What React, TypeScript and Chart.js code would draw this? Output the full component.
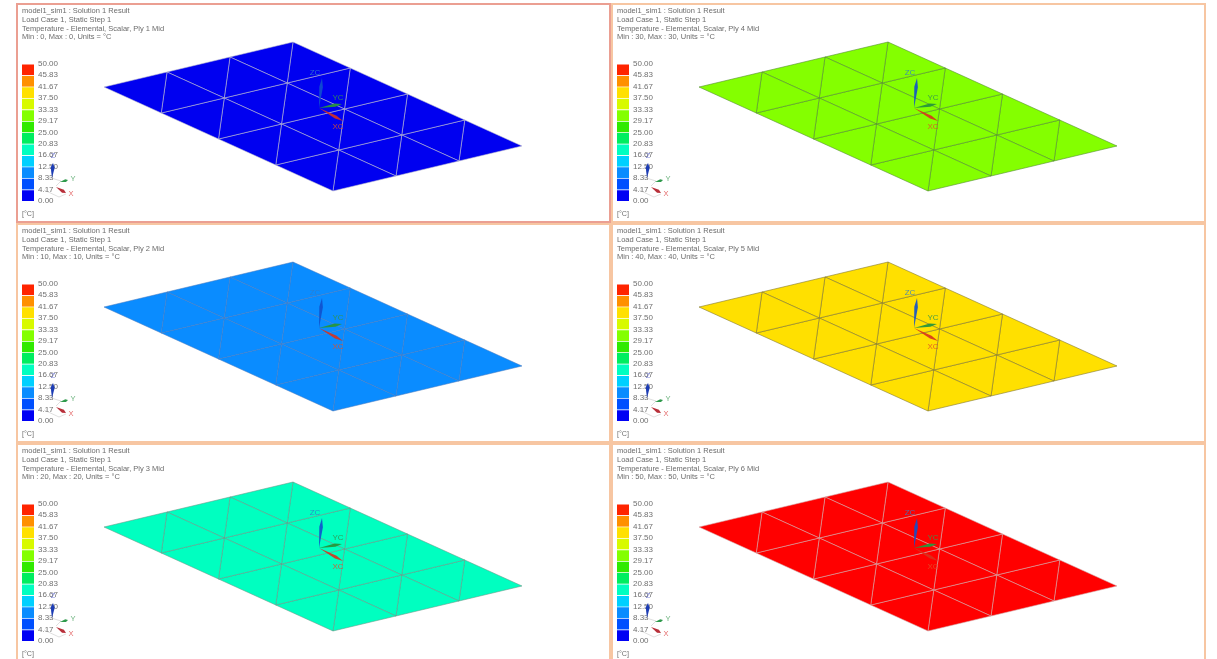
import React, { useEffect, useRef } from "react";
import { Chart, registerables } from "chart.js";

Chart.register(...registerables);

// ---- Data ----
const PLY_NUMBERS = [1, 4, 2, 5, 3, 6];
const PLY_TEMPERATURES = [0, 30, 10, 40, 20, 50];
const LEGEND_TICKS = [0, 4.17, 8.33, 12.5, 16.67, 20.83, 25, 29.17, 33.33, 37.5, 41.67, 45.83, 50];
const LEGEND_COLORS = [
  "#0000f4", "#0050ff", "#0a8cff", "#00d0ff", "#00ffc0", "#00ee60",
  "#30ea00", "#84ff00", "#d8fa00", "#ffe000", "#ff9000", "#ff2400",
];
const ELEMENT_COLORS: Record<number, string> = {
  0: "#0000f0", 10: "#0a8cff", 20: "#00ffc0", 30: "#84ff00", 40: "#ffe000", 50: "#ff0000",
};
const MESH_LINE: Record<number, string> = {
  0: "rgba(190,190,205,0.8)", 10: "rgba(70,120,190,0.75)", 20: "rgba(105,150,135,0.8)",
  30: "rgba(85,140,50,0.85)", 40: "rgba(130,120,50,0.85)", 50: "rgba(210,170,170,0.8)",
};
const U_DIVISIONS = 3;
const V_DIVISIONS = 4;

// Plate seen in the view: origin and the two in-plane edge vectors.
const PLATE_ORIGIN = [104, 87];
const PLATE_U = [189, -45];
const PLATE_V = [229, 104];

const DATUM_ORIGIN = [319, 108];
const DATUM_TIPS = { z: [322, 78], y: [342, 104], x: [343, 121] };
const DATUM_LABELS = { z: [315, 73], y: [338, 98], x: [338, 127] };
const WCS_TIPS = { z: [53, 163], y: [68, 180], x: [66, 193] };
const WCS_LABELS = { z: [53, 156], y: [73, 179], x: [71, 194] };
const WCS_ORIGINS = { z: [52, 178], y: [60, 182], x: [56, 187] };
const WCS_BOX = [
  [[48, 177], [61, 181]],
  [[61, 181], [56, 186]],
  [[44, 190], [59, 197]],
  [[59, 197], [66, 194]],
];

const FONT = "'Liberation Sans', Arial, sans-serif";
const TEXT_COLOR = "#707070";

const project = (u: number, v: number) => ({
  x: PLATE_ORIGIN[0] + (PLATE_U[0] * u) / U_DIVISIONS + (PLATE_V[0] * v) / V_DIVISIONS,
  y: PLATE_ORIGIN[1] + (PLATE_U[1] * u) / U_DIVISIONS + (PLATE_V[1] * v) / V_DIVISIONS,
});

const spindle = (from: number[], to: number[], halfWidth: number) => {
  const dx = to[0] - from[0];
  const dy = to[1] - from[1];
  const len = Math.hypot(dx, dy) || 1;
  const nx = (-dy / len) * halfWidth;
  const ny = (dx / len) * halfWidth;
  const mx = from[0] + dx * 0.7;
  const my = from[1] + dy * 0.7;
  return [
    { x: from[0], y: from[1] },
    { x: mx + nx, y: my + ny },
    { x: to[0], y: to[1] },
    { x: mx - nx, y: my - ny },
    { x: from[0], y: from[1] },
  ];
};

const shape = (data: { x: number; y: number }[], fillColor: string, line: string, lineWidth = 0) => ({
  data,
  showLine: true,
  pointRadius: 0,
  tension: 0,
  fill: "shape",
  backgroundColor: fillColor,
  borderColor: line,
  borderWidth: lineWidth,
});

const meshPlugin = {
  id: "panelText",
  afterDraw(chart: any, _a: any, opts: any) {
    const { ctx, scales } = chart;
    ctx.save();
    ctx.textBaseline = "middle";
    ctx.textAlign = "left";
    ctx.font = `7.5px ${FONT}`;
    ctx.fillStyle = "#6c6c6c";
    (opts.header as string[]).forEach((t, i) => {
      ctx.fillText(t, scales.x.getPixelForValue(22), scales.y.getPixelForValue(11 + i * 8.75));
    });
    ctx.textAlign = "center";
    (opts.labels as any[]).forEach((l) => {
      ctx.font = `${l.size}px ${FONT}`;
      ctx.fillStyle = l.color;
      ctx.fillText(l.text, scales.x.getPixelForValue(l.at[0]), scales.y.getPixelForValue(l.at[1]));
    });
    ctx.restore();
  },
};

function Panel({ index }: { index: number }) {
  const meshRef = useRef<HTMLCanvasElement>(null);
  const barRef = useRef<HTMLCanvasElement>(null);
  const temp = PLY_TEMPERATURES[index];
  const ply = PLY_NUMBERS[index];
  const col = index % 2;
  const row = Math.floor(index / 2);
  const left = 16 + 595 * col;
  const top = 3 + 220 * row;

  useEffect(() => {
    const datasets: any[] = [];
    const zc = "rgba(16,80,205,0.9)";
    const yc = "rgba(40,150,60,0.95)";
    const xc = "rgba(215,50,30,0.9)";
    // Chart.js paints the first dataset last, so the triads come first.
    datasets.push(shape(spindle(DATUM_ORIGIN, DATUM_TIPS.z, 1.8), zc, zc));
    datasets.push(shape(spindle(DATUM_ORIGIN, DATUM_TIPS.y, 1.6), yc, yc));
    datasets.push(shape(spindle(DATUM_ORIGIN, DATUM_TIPS.x, 1.6), xc, xc));
    datasets.push(shape(spindle(WCS_ORIGINS.z, WCS_TIPS.z, 2), "#1c3cb4", "#1c3cb4"));
    datasets.push(shape(spindle(WCS_ORIGINS.y, WCS_TIPS.y, 1.4), "#2f9a4c", "#2f9a4c"));
    datasets.push(shape(spindle(WCS_ORIGINS.x, WCS_TIPS.x, 1.8), "#b8303a", "#b8303a"));
    WCS_BOX.forEach((seg) =>
      datasets.push({
        data: seg.map((p) => ({ x: p[0], y: p[1] })),
        showLine: true,
        pointRadius: 0,
        borderColor: "rgba(170,170,170,0.55)",
        borderWidth: 0.7,
      })
    );
    for (let i = 0; i < U_DIVISIONS; i++) {
      for (let j = 0; j < V_DIVISIONS; j++) {
        const a = project(i, j);
        const b = project(i + 1, j);
        const c = project(i, j + 1);
        const d = project(i + 1, j + 1);
        datasets.push(shape([a, b, c, a], ELEMENT_COLORS[temp], MESH_LINE[temp], 0.7));
        datasets.push(shape([b, d, c, b], ELEMENT_COLORS[temp], MESH_LINE[temp], 0.7));
      }
    }

    const mesh = new Chart(meshRef.current!, {
      type: "scatter",
      data: { datasets },
      plugins: [meshPlugin],
      options: {
        animation: false,
        responsive: false,
        layout: { padding: 0, autoPadding: false },
        scales: {
          x: { type: "linear", min: 16, max: 611, display: false },
          y: { type: "linear", min: 3, max: 223, reverse: true, display: false },
        },
        plugins: {
          legend: { display: false },
          tooltip: { enabled: false },
          panelText: {
            header: [
              "model1_sim1 : Solution 1 Result",
              "Load Case 1, Static Step 1",
              `Temperature - Elemental, Scalar, Ply ${ply} Mid`,
              `Min : ${temp}, Max : ${temp}, Units = °C`,
            ],
            labels: [
              { text: "ZC", at: DATUM_LABELS.z, color: "rgba(50,125,200,0.85)", size: 8 },
              { text: "YC", at: DATUM_LABELS.y, color: "rgba(50,150,80,0.9)", size: 8 },
              { text: "XC", at: DATUM_LABELS.x, color: "rgba(225,80,40,0.85)", size: 8 },
              { text: "Z", at: WCS_LABELS.z, color: "rgba(90,100,200,0.8)", size: 7.5 },
              { text: "Y", at: WCS_LABELS.y, color: "rgba(90,170,110,0.9)", size: 7.5 },
              { text: "X", at: WCS_LABELS.x, color: "rgba(225,90,90,0.9)", size: 7.5 },
            ],
          },
        } as any,
      } as any,
    });

    const bar = new Chart(barRef.current!, {
      type: "bar",
      data: {
        labels: ["scale"],
        datasets: LEGEND_COLORS.map((color, i) => ({
          data: [LEGEND_TICKS[i + 1] - LEGEND_TICKS[i]],
          backgroundColor: color,
          borderColor: "rgba(255,255,255,0.3)",
          borderWidth: { top: 1, bottom: 0, left: 0, right: 0 },
          barPercentage: 1,
          categoryPercentage: 1,
          stack: "s",
        })),
      },
      options: {
        animation: false,
        responsive: false,
        layout: { padding: { top: 4, left: 0, right: 0, bottom: 0 }, autoPadding: false },
        scales: {
          x: {
            stacked: true,
            grid: { display: false, drawTicks: false },
            border: { display: false },
            ticks: { display: false },
            title: {
              display: true,
              text: "[°C]",
              align: "start",
              color: TEXT_COLOR,
              font: { family: FONT, size: 8 },
              padding: { top: 0, bottom: 1 },
            },
            afterFit: (s: any) => {
              s.height = 19;
            },
          },
          y: {
            stacked: true,
            position: "right",
            min: 0,
            max: 50,
            grid: { display: false, drawTicks: false },
            border: { display: false },
            afterBuildTicks: (s: any) => {
              s.ticks = LEGEND_TICKS.map((value) => ({ value }));
            },
            afterFit: (s: any) => {
              s.width = 26;
            },
            ticks: {
              autoSkip: false,
              padding: 4,
              color: TEXT_COLOR,
              font: { family: FONT, size: 8 },
              callback: (v: any) => Number(v).toFixed(2),
            },
          },
        },
        plugins: { legend: { display: false }, tooltip: { enabled: false } },
      } as any,
    });
    return () => {
      mesh.destroy();
      bar.destroy();
    };
  }, []);

  const borderColor = index === 0 ? "#eb9f92" : "#f7c6a2";
  return (
    <>
      <div
        style={{
          position: "absolute",
          left,
          top,
          width: 595,
          height: 220,
          boxSizing: "border-box",
          border: `2px solid ${borderColor}`,
          zIndex: index === 0 ? 2 : 1,
        }}
      />
      <canvas
        ref={barRef}
        width={38}
        height={165}
        style={{ position: "absolute", left: left + 6, top: top + 52, zIndex: 3 }}
      />
      <canvas
        ref={meshRef}
        width={595}
        height={220}
        style={{ position: "absolute", left, top, zIndex: 4 }}
      />
    </>
  );
}

export default function App() {
  return (
    <div
      style={{
        position: "fixed",
        inset: 0,
        overflow: "hidden",
        background: "#fff",
        filter: "blur(0.55px)",
      }}
    >
      {PLY_NUMBERS.map((_, i) => (
        <Panel key={i} index={i} />
      ))}
    </div>
  );
}
